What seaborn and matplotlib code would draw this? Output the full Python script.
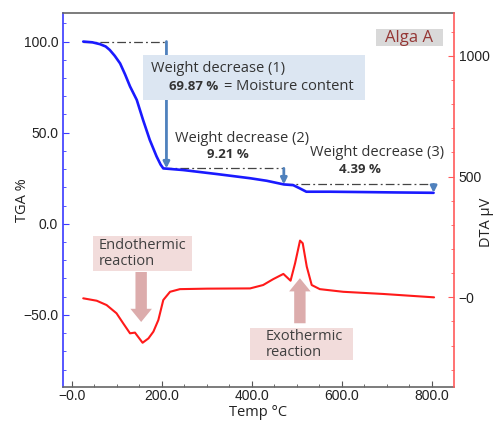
import matplotlib
matplotlib.use("Agg")
import pandas as pd
import seaborn as sns
from matplotlib import pyplot as plt
from matplotlib.patches import Rectangle, FancyArrowPatch
from matplotlib.ticker import FixedLocator, FixedFormatter, MultipleLocator

# TGA curve (weight %, left axis)
tga_temp = [25, 45, 62, 75, 84, 95, 107, 118, 129, 144, 158, 173, 188, 197, 203,
            247, 322, 396, 433, 471, 492, 506, 521, 573, 650, 720, 804]
tga_weight = [100, 99.6, 98.6, 97.3, 95.4, 92.2, 88, 82, 75.4, 68, 57, 46, 37, 32.5, 30.4,
              29.5, 27.3, 25, 23.6, 21.6, 21.2, 19.5, 17.6, 17.6, 17.4, 17.2, 17]

# DTA curve (uV, right axis)
dta_temp = [25, 55, 77, 99, 114, 129, 140, 144, 157, 170, 181, 192, 203, 218, 240,
            300, 396, 425, 447, 470, 486, 496, 507, 513, 522, 533, 551, 603, 692, 805]
dta_signal = [-4, -14, -32, -66, -108, -149, -146, -156, -188, -170, -142, -94, -11, 23, 34,
              36, 37, 51, 75, 97, 69, 141, 235, 224, 127, 51, 34, 23, 14, 0]

# weight-loss steps: arrow temperature, start level, end level, guide start
step_temps = [210, 471, 804]
step_start = [100.0, 30.4, 21.6]
step_end = [30.4, 21.6, 17.0]
guide_from = [25, 203, 471]
step_losses = ["69.87 %", "9.21 %", "4.39 %"]

x_ticks = [0, 200, 400, 600, 800]
x_tick_labels = ["\u22120.0", "200.0", "400.0", "600.0", "800.0"]
tga_ticks = [-50, 0, 50, 100]
tga_tick_labels = ["\u221250.0", "0.0", "50.0", "100.0"]
dta_ticks = [0, 500, 1000]
dta_tick_labels = ["\u22120", "500", "1000"]

sns.set_style("ticks")
plt.rcParams["font.family"] = ["Open Sans", "DejaVu Sans"]

fig = plt.figure(figsize=(4.96, 4.24), dpi=100)
ax = fig.add_axes([0.127, 0.088, 0.788, 0.881])
ax2 = ax.twinx()

tga = pd.DataFrame({"temp": tga_temp, "weight": tga_weight})
dta = pd.DataFrame({"temp": dta_temp, "signal": dta_signal})

sns.lineplot(data=tga, x="temp", y="weight", ax=ax, color="#1a1aff", lw=1.9, zorder=3)
sns.lineplot(data=dta, x="temp", y="signal", ax=ax2, color="#ff1a1a", lw=1.5)

ax.set_xlim(-20, 849)
ax.set_ylim(-89.4, 115.6)
ax2.set_ylim(-370, 1177)

# axes styling
tick_font = {"family": "Liberation Sans", "size": 10}
ax.xaxis.set_major_locator(FixedLocator(x_ticks))
ax.xaxis.set_major_formatter(FixedFormatter(x_tick_labels))
ax.xaxis.set_minor_locator(MultipleLocator(50))
ax.yaxis.set_major_locator(FixedLocator(tga_ticks))
ax.yaxis.set_major_formatter(FixedFormatter(tga_tick_labels))
ax.yaxis.set_minor_locator(MultipleLocator(10))
ax2.yaxis.set_major_locator(FixedLocator(dta_ticks))
ax2.yaxis.set_major_formatter(FixedFormatter(dta_tick_labels))
ax2.yaxis.set_minor_locator(MultipleLocator(100))

ax.tick_params(axis="x", which="both", direction="in", colors="#555555", pad=2)
ax.tick_params(axis="x", which="major", length=4, labelcolor="#222222")
ax.tick_params(axis="x", which="minor", length=2.5)
ax.tick_params(axis="y", which="both", direction="in", colors="#3a3aff", labelcolor="#222222")
ax.tick_params(axis="y", which="major", length=4)
ax.tick_params(axis="y", which="minor", length=2.5)
ax2.tick_params(axis="y", which="both", direction="in", colors="#ff5a5a", labelcolor="#222222")
ax2.tick_params(axis="y", which="major", length=4)
ax2.tick_params(axis="y", which="minor", length=2.5)
for lab in ax.get_xticklabels() + ax.get_yticklabels() + ax2.get_yticklabels():
    lab.set_fontfamily(tick_font["family"])
    lab.set_fontsize(tick_font["size"])

ax.spines["left"].set_color("#3a3aff")
ax.spines["top"].set_color("#666666")
ax.spines["bottom"].set_color("#666666")
ax.spines["right"].set_visible(False)
for s in ["left", "top", "bottom"]:
    ax2.spines[s].set_visible(False)
ax2.spines["right"].set_color("#ff5a5a")
for sp in ax.spines.values():
    sp.set_linewidth(1.2)
ax2.spines["right"].set_linewidth(1.2)

ax.set_xlabel("Temp \u00b0C", fontsize=10.5, color="#222222")
ax.set_ylabel("TGA %", fontsize=10.5, color="#222222")
ax2.set_ylabel("DTA \u03bcV", fontsize=10.5, color="#222222", rotation=90)
ax.xaxis.set_label_coords(0.5, -0.05)
ax.yaxis.set_label_coords(-0.084, 0.5)
ax2.yaxis.set_label_coords(1.064, 0.44)

# weight-loss guides and arrows
arrow_col = "#4f81bd"
for t, y0, y1, g in zip(step_temps, step_start, step_end, guide_from):
    ax.plot([g, t], [y0, y0], color="#444444", lw=0.9, ls=(0, (7, 2.5, 1.5, 2.5)), zorder=2)
    ax.annotate("", xy=(t, y1), xytext=(t, y0),
                arrowprops=dict(arrowstyle="-|>", color=arrow_col, lw=2,
                                mutation_scale=9, shrinkA=0, shrinkB=0),
                zorder=2)

ax.add_patch(Rectangle((0.204, 0.768), 0.568, 0.120, transform=ax.transAxes,
                       facecolor="#dce6f2", edgecolor="none", zorder=4))
txt = dict(transform=ax.transAxes, color="#333333", zorder=5)
ax.text(0.224, 0.8436, "Weight decrease (1)", fontsize=10.5, **txt)
ax.text(0.272, 0.7946, step_losses[0], fontsize=9.5, fontweight="bold", **txt)
ax.text(0.412, 0.7946, "= Moisture content", fontsize=10.5, **txt)
ax.text(0.2864, 0.656, "Weight decrease (2)", fontsize=10.5, **txt)
ax.text(0.369, 0.6125, step_losses[1], fontsize=9.5, fontweight="bold", **txt)
ax.text(0.632, 0.617, "Weight decrease (3)", fontsize=10.5, **txt)
ax.text(0.7066, 0.573, step_losses[2], fontsize=9.5, fontweight="bold", **txt)

# sample tag
ax2.add_patch(Rectangle((0.8005, 0.912), 0.1714, 0.046, transform=ax.transAxes,
                        facecolor="#d9d9d9", edgecolor="none", zorder=4))
ax2.text(0.886, 0.934, "Alga A", transform=ax.transAxes, fontsize=12, color="#953735",
         ha="center", va="center", zorder=5)

# DTA reaction labels
pink_box = "#f2dcdb"
pink_arrow = "#dcacac"
ax2.add_patch(Rectangle((0.0767, 0.3107), 0.2533, 0.0928, transform=ax.transAxes,
                        facecolor=pink_box, edgecolor="none", zorder=1))
ax2.text(0.0913, 0.357, "Endothermic\nreaction", transform=ax.transAxes, fontsize=10.5,
         color="#404040", va="center", linespacing=1.05, zorder=2)
ax2.add_patch(Rectangle((0.478, 0.0715), 0.2635, 0.0845, transform=ax.transAxes,
                        facecolor=pink_box, edgecolor="none", zorder=1))
ax2.text(0.519, 0.1135, "Exothermic\nreaction", transform=ax.transAxes, fontsize=10.5,
         color="#404040", va="center", linespacing=1.05, zorder=2)

fat = "simple,head_length=0.95,head_width=1.55,tail_width=0.82"
ax2.add_patch(FancyArrowPatch((0.2, 0.3071), (0.2, 0.1732), transform=ax.transAxes,
                              arrowstyle=fat, mutation_scale=10, color=pink_arrow,
                              shrinkA=0, shrinkB=0, lw=0, zorder=2))
ax2.add_patch(FancyArrowPatch((0.6061, 0.1698), (0.6061, 0.2904), transform=ax.transAxes,
                              arrowstyle=fat, mutation_scale=10, color=pink_arrow,
                              shrinkA=0, shrinkB=0, lw=0, zorder=2))

fig.savefig("out.png", dpi=100)
